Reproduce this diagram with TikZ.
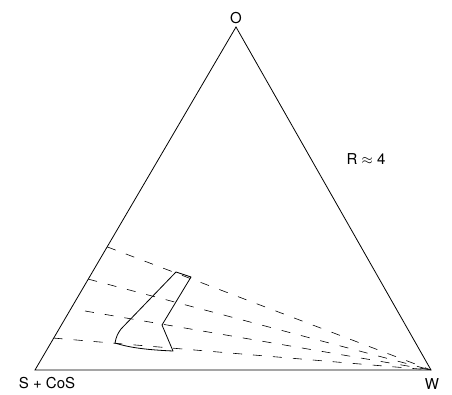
\documentclass[tikz,border=0pt]{standalone}
\usepackage{fontspec}
\setmainfont{TeX Gyre Heros}
\usetikzlibrary{calc}

\begin{document}
\begin{tikzpicture}[
  x=1pt, y=-1pt,
  edge/.style={line width=0.8pt},
  tieline/.style={line width=0.6pt, dash pattern=on 9pt off 11pt},
  region/.style={line width=0.8pt, line join=round},
  vlabel/.style={font=\fontsize{15}{17}\selectfont, inner sep=0pt},
]
  \useasboundingbox (0,0) rectangle (452,395);

  % corners of the phase triangle
  \coordinate (O) at (236,27);
  \coordinate (S) at (35,370);
  \coordinate (W) at (431,370);

  \draw[edge] (S) -- (O) -- (W) -- cycle;

  \node[vlabel, above=3pt] (lblO) at (O) {O};
  \node[vlabel] (lblS) at (47,383) {S + CoS};
  \node[vlabel] (lblW) at (432,384) {W};
  \node[vlabel] (lblR) at (366,159) {R $\approx$ 4};

  % tie lines running into the water corner
  \coordinate (t1) at ($(S)!0.359!(O)$);
  \coordinate (t2) at ($(S)!0.265!(O)$);
  \coordinate (t3) at (85,311);
  \coordinate (t4) at ($(S)!0.093!(O)$);
  \foreach \t in {t1,t2,t3,t4}
    \draw[tieline] (\t) -- (W);

  % one-phase region
  \draw[region] (176,272) -- (191,277) -- (162,325) -- (173,351)
    .. controls (150,350) and (130,348) .. (115,343)
    .. controls (116,337) and (118,333) .. (121,329) -- cycle;
\end{tikzpicture}
\end{document}
